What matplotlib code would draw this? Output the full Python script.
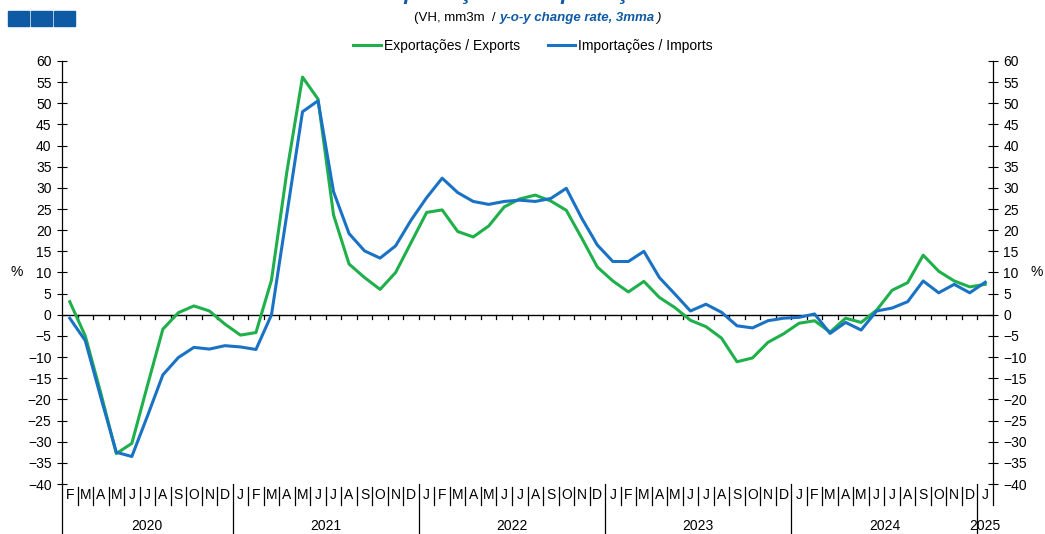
import numpy as np
import matplotlib
matplotlib.use("Agg")
import matplotlib.pyplot as plt
from matplotlib.patches import Rectangle
import matplotlib.transforms as mtransforms

plt.rcParams['font.family'] = ['Liberation Sans', 'DejaVu Sans']

# months Feb 2020 .. Jan 2025
months = ['F', 'M', 'A', 'M', 'J', 'J', 'A', 'S', 'O', 'N', 'D'] + \
         ['J', 'F', 'M', 'A', 'M', 'J', 'J', 'A', 'S', 'O', 'N', 'D'] * 4 + ['J']
years = ['2020', '2021', '2022', '2023', '2024', '2025']
year_counts = [11, 12, 12, 12, 12, 1]

exports = [3.1, -5.0, -18.5, -32.8, -30.4, -16.8, -3.4, 0.5, 2.1, 0.9, -2.2,
           -4.8, -4.2, 8.2, 34.0, 56.2, 51.0, 23.6, 12.0, 8.8, 6.0, 10.0, 17.1,
           24.2, 24.8, 19.7, 18.4, 21.0, 25.5, 27.4, 28.3, 26.9, 24.7, 18.1, 11.3,
           8.0, 5.4, 7.9, 4.1, 1.7, -1.3, -2.8, -5.5, -11.1, -10.2, -6.5, -4.5,
           -2.0, -1.4, -4.1, -0.8, -1.8, 1.1, 5.8, 7.6, 14.1, 10.3, 8.0, 6.6,
           7.2]
imports = [-0.8, -6.1, -19.5, -32.5, -33.5, -24.0, -14.2, -10.1, -7.7, -8.1, -7.3,
           -7.6, -8.2, 0.0, 24.0, 48.0, 50.6, 29.1, 19.2, 15.1, 13.4, 16.3, 22.4,
           27.7, 32.3, 28.9, 26.8, 26.1, 26.8, 27.1, 26.8, 27.5, 29.9, 22.8, 16.5,
           12.6, 12.6, 15.0, 8.8, 4.9, 0.9, 2.5, 0.6, -2.6, -3.1, -1.4, -0.8,
           -0.6, 0.2, -4.4, -1.8, -3.6, 0.9, 1.6, 3.1, 8.0, 5.2, 7.2, 5.2,
           7.7]

green = '#1fb04b'
blue = '#1a72c4'
dark_blue = '#0f5aa5'

fig = plt.figure(figsize=(10.45, 5.34), dpi=100)
ax = fig.add_axes([62 / 1045, 50 / 534, 931 / 1045, 423 / 534])
x = np.arange(len(months))

ax.plot(x, exports, color=green, lw=2.2, label='Exportações / Exports', zorder=3)
ax.plot(x, imports, color=blue, lw=2.2, label='Importações / Imports', zorder=4)

ax.set_xlim(-0.5, len(months) - 0.5)
ax.set_ylim(-40, 60)
ax.set_yticks(np.arange(-40, 61, 5))
ax.set_xticks([])
ax.tick_params(axis='y', direction='inout', length=7, width=0.8, labelsize=10,
               labelright=True, right=True, pad=4)
for s in ['top', 'bottom']:
    ax.spines[s].set_visible(False)
for s in ['left', 'right']:
    ax.spines[s].set_linewidth(0.9)

# zero line with month ticks
ax.axhline(0, color='black', lw=1.0, zorder=2)
for b in np.arange(0.5, len(months) - 0.5, 1):
    ax.plot([b, b], [0, -0.9], color='black', lw=0.9, zorder=2)

# category axis under the plot
trans = mtransforms.blended_transform_factory(ax.transData, ax.transAxes)
for i, m in enumerate(months):
    ax.text(i, -0.027, m, transform=trans, ha='center', va='center', fontsize=10, clip_on=False)
pos = -0.5
for k, (yr, n) in enumerate(zip(years, year_counts)):
    ax.text(pos + n / 2, -0.1, yr, transform=trans, ha='center', va='center', fontsize=10, clip_on=False)
    for j in range(1, n + 1):
        b = pos + j
        if j == n and k < len(years) - 1:
            ax.plot([b, b], [0, -50 / 423], transform=trans, color='black', lw=0.9, clip_on=False)
        elif b < len(months) - 0.5:
            ax.plot([b, b], [-0.008, -0.05], transform=trans, color='black', lw=0.9, clip_on=False)
    pos += n
ax.plot([-0.5, -0.5], [0, -50 / 423], transform=trans, color='black', lw=0.9, clip_on=False)
ax.plot([len(months) - 0.5] * 2, [0, -0.05], transform=trans, color='black', lw=0.9, clip_on=False)

# % labels
fig.text(17 / 1045, 1 - 272 / 534, '%', ha='center', va='center', fontsize=10)
fig.text(1037 / 1045, 1 - 272 / 534, '%', ha='center', va='center', fontsize=10)

# header
for x0 in [8, 31, 54]:
    fig.patches.append(Rectangle((x0 / 1045, 1 - 26 / 534), 21 / 1045, 15 / 534,
                                 transform=fig.transFigure, color=dark_blue))
fig.text(0.5, 1 + 1 / 534, 'Exportações e Importações', ha='center', va='baseline',
         fontsize=16, fontweight='bold', fontstyle='italic', color=dark_blue)

# subtitle built from three pieces placed one after the other
renderer = fig.canvas.get_renderer()
sub_y = 1 - 18 / 534
parts = [('(VH, mm3m  / ', dict(color='black')),
         ('y-o-y change rate, 3mma', dict(color=dark_blue, fontweight='bold', fontstyle='italic')),
         (')', dict(color='black', fontstyle='italic'))]
texts = [fig.text(0, sub_y, s, ha='left', va='center', fontsize=9.5, **kw) for s, kw in parts]
widths = [t.get_window_extent(renderer).width for t in texts]
cur = 534 - sum(widths) / 2 + 2
for t, w in zip(texts, widths):
    t.set_x(cur / 1045)
    cur += w + 1

fig.legend(loc='center', bbox_to_anchor=(533 / 1045, 1 - 46 / 534), ncol=2, frameon=False,
           fontsize=10, handlelength=2.0, handletextpad=0.2, columnspacing=2.0)

fig.savefig('out.png', dpi=100)
